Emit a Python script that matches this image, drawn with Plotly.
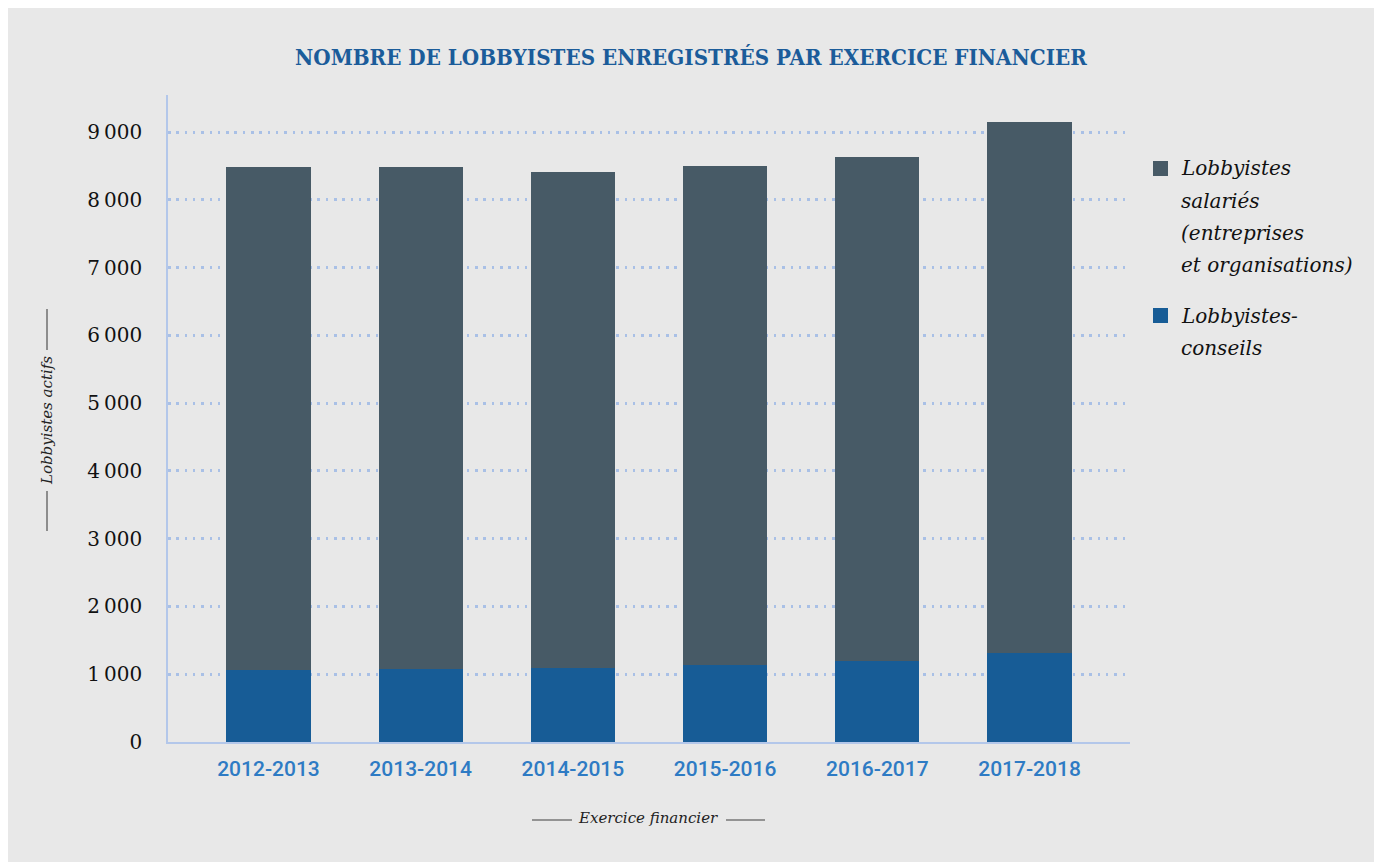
import plotly.graph_objects as go

# ---- data ----
categories = ["2012-2013", "2013-2014", "2014-2015", "2015-2016", "2016-2017", "2017-2018"]
conseils = [1062, 1077, 1092, 1130, 1195, 1310]
totals = [8483, 8483, 8410, 8500, 8630, 9147]
salaries = [t - c for t, c in zip(totals, conseils)]
y_tickvals = [0, 1000, 2000, 3000, 4000, 5000, 6000, 7000, 8000, 9000]
y_ticktext = ["0", "1\u2009000", "2\u2009000", "3\u2009000", "4\u2009000", "5\u2009000",
              "6\u2009000", "7\u2009000", "8\u2009000", "9\u2009000"]

title_text = "NOMBRE DE LOBBYISTES ENREGISTRÉS PAR EXERCICE FINANCIER"
legend_salaries = ["Lobbyistes", "salariés", "(entreprises", "et organisations)"]
legend_conseils = ["Lobbyistes-", "conseils"]

# ---- style ----
C_DARK = "#475a66"
C_BLUE = "#175c96"
C_BG = "#e8e8e8"
C_GRID = "#a9c0e6"
C_AXIS = "#b3c7ea"
C_TITLE = "#1b5c9a"
C_XTICK = "#2e7bc4"

OFF = 8  # page body margin
W, H = 1368, 854
# plot area in page px
L, R, T, B = 168, 1130, 95, 742


def px(x):
    return (x - L) / (R - L)


def py(y):
    return (B - y) / (B - T)


fig = go.Figure()
fig.add_trace(go.Bar(x=categories, y=conseils, name="Lobbyistes-conseils",
                     marker=dict(color=C_BLUE, line=dict(width=0))))
fig.add_trace(go.Bar(x=categories, y=salaries, name="Lobbyistes salariés",
                     marker=dict(color=C_DARK, line=dict(width=0))))

shapes = []
# legend squares
shapes.append(dict(type="rect", xref="paper", yref="paper",
                   x0=px(1153), x1=px(1168), y0=py(176), y1=py(161),
                   fillcolor=C_DARK, line=dict(width=0)))
shapes.append(dict(type="rect", xref="paper", yref="paper",
                   x0=px(1153), x1=px(1168), y0=py(323), y1=py(308),
                   fillcolor=C_BLUE, line=dict(width=0)))
# y axis title lines
for y0, y1 in [(309, 350), (491, 531)]:
    shapes.append(dict(type="line", xref="paper", yref="paper",
                       x0=px(47), x1=px(47), y0=py(y0), y1=py(y1),
                       line=dict(color="#333333", width=1)))
# x axis title lines
for x0, x1 in [(532, 572), (726, 765)]:
    shapes.append(dict(type="line", xref="paper", yref="paper",
                       x0=px(x0), x1=px(x1), y0=py(820), y1=py(820),
                       line=dict(color="#777777", width=1.5)))

annotations = []
annotations.append(dict(text=title_text, xref="paper", yref="paper",
                        x=px(691), y=py(57), xanchor="center", yanchor="middle",
                        showarrow=False,
                        font=dict(family="DejaVu Serif Condensed", size=22.2,
                                  color=C_TITLE, weight="bold")))
leg_font = dict(family="DejaVu Serif", size=20, color="#111111", style="italic")
for text, yc in zip(legend_salaries, [168, 201, 233, 265]):
    annotations.append(dict(text=text, xref="paper", yref="paper",
                            x=px(1179), y=py(yc), xanchor="left", yanchor="middle",
                            showarrow=False, font=leg_font))
for text, yc in zip(legend_conseils, [316, 348]):
    annotations.append(dict(text=text, xref="paper", yref="paper",
                            x=px(1179), y=py(yc), xanchor="left", yanchor="middle",
                            showarrow=False, font=leg_font))
annotations.append(dict(text="Lobbyistes actifs", xref="paper", yref="paper",
                        x=px(47), y=py(421), xanchor="center", yanchor="middle",
                        textangle=-90, showarrow=False,
                        font=dict(family="DejaVu Serif", size=15, color="#222222",
                                  style="italic")))
annotations.append(dict(text="Exercice financier", xref="paper", yref="paper",
                        x=px(648), y=py(818), xanchor="center", yanchor="middle",
                        showarrow=False,
                        font=dict(family="DejaVu Serif", size=15, color="#222222",
                                  style="italic")))

fig.update_layout(
    width=W, height=H,
    margin=dict(l=L - OFF, r=W - (R - OFF), t=T - OFF, b=H - (B - OFF), pad=0),
    paper_bgcolor=C_BG,
    plot_bgcolor=C_BG,
    barmode="stack",
    bargap=0.447,
    showlegend=False,
    shapes=shapes,
    annotations=annotations,
    xaxis=dict(range=[-0.66, 5.66], showgrid=False, zeroline=False,
               showline=True, linecolor=C_AXIS, linewidth=1.5,
               ticks="", ticklabelstandoff=7,
               tickfont=dict(family="Roboto", size=21, color=C_XTICK, weight=500)),
    yaxis=dict(range=[0, 9546], tickvals=y_tickvals, ticktext=y_ticktext,
               showgrid=True, gridcolor=C_GRID, gridwidth=2.5, griddash="2.5px,5.8px",
               zeroline=False, showline=True, linecolor=C_AXIS, linewidth=1.5,
               ticks="", ticklabelstandoff=20,
               tickfont=dict(family="DejaVu Serif", size=20, color="#111111")),
)

fig.write_html("out.html")
